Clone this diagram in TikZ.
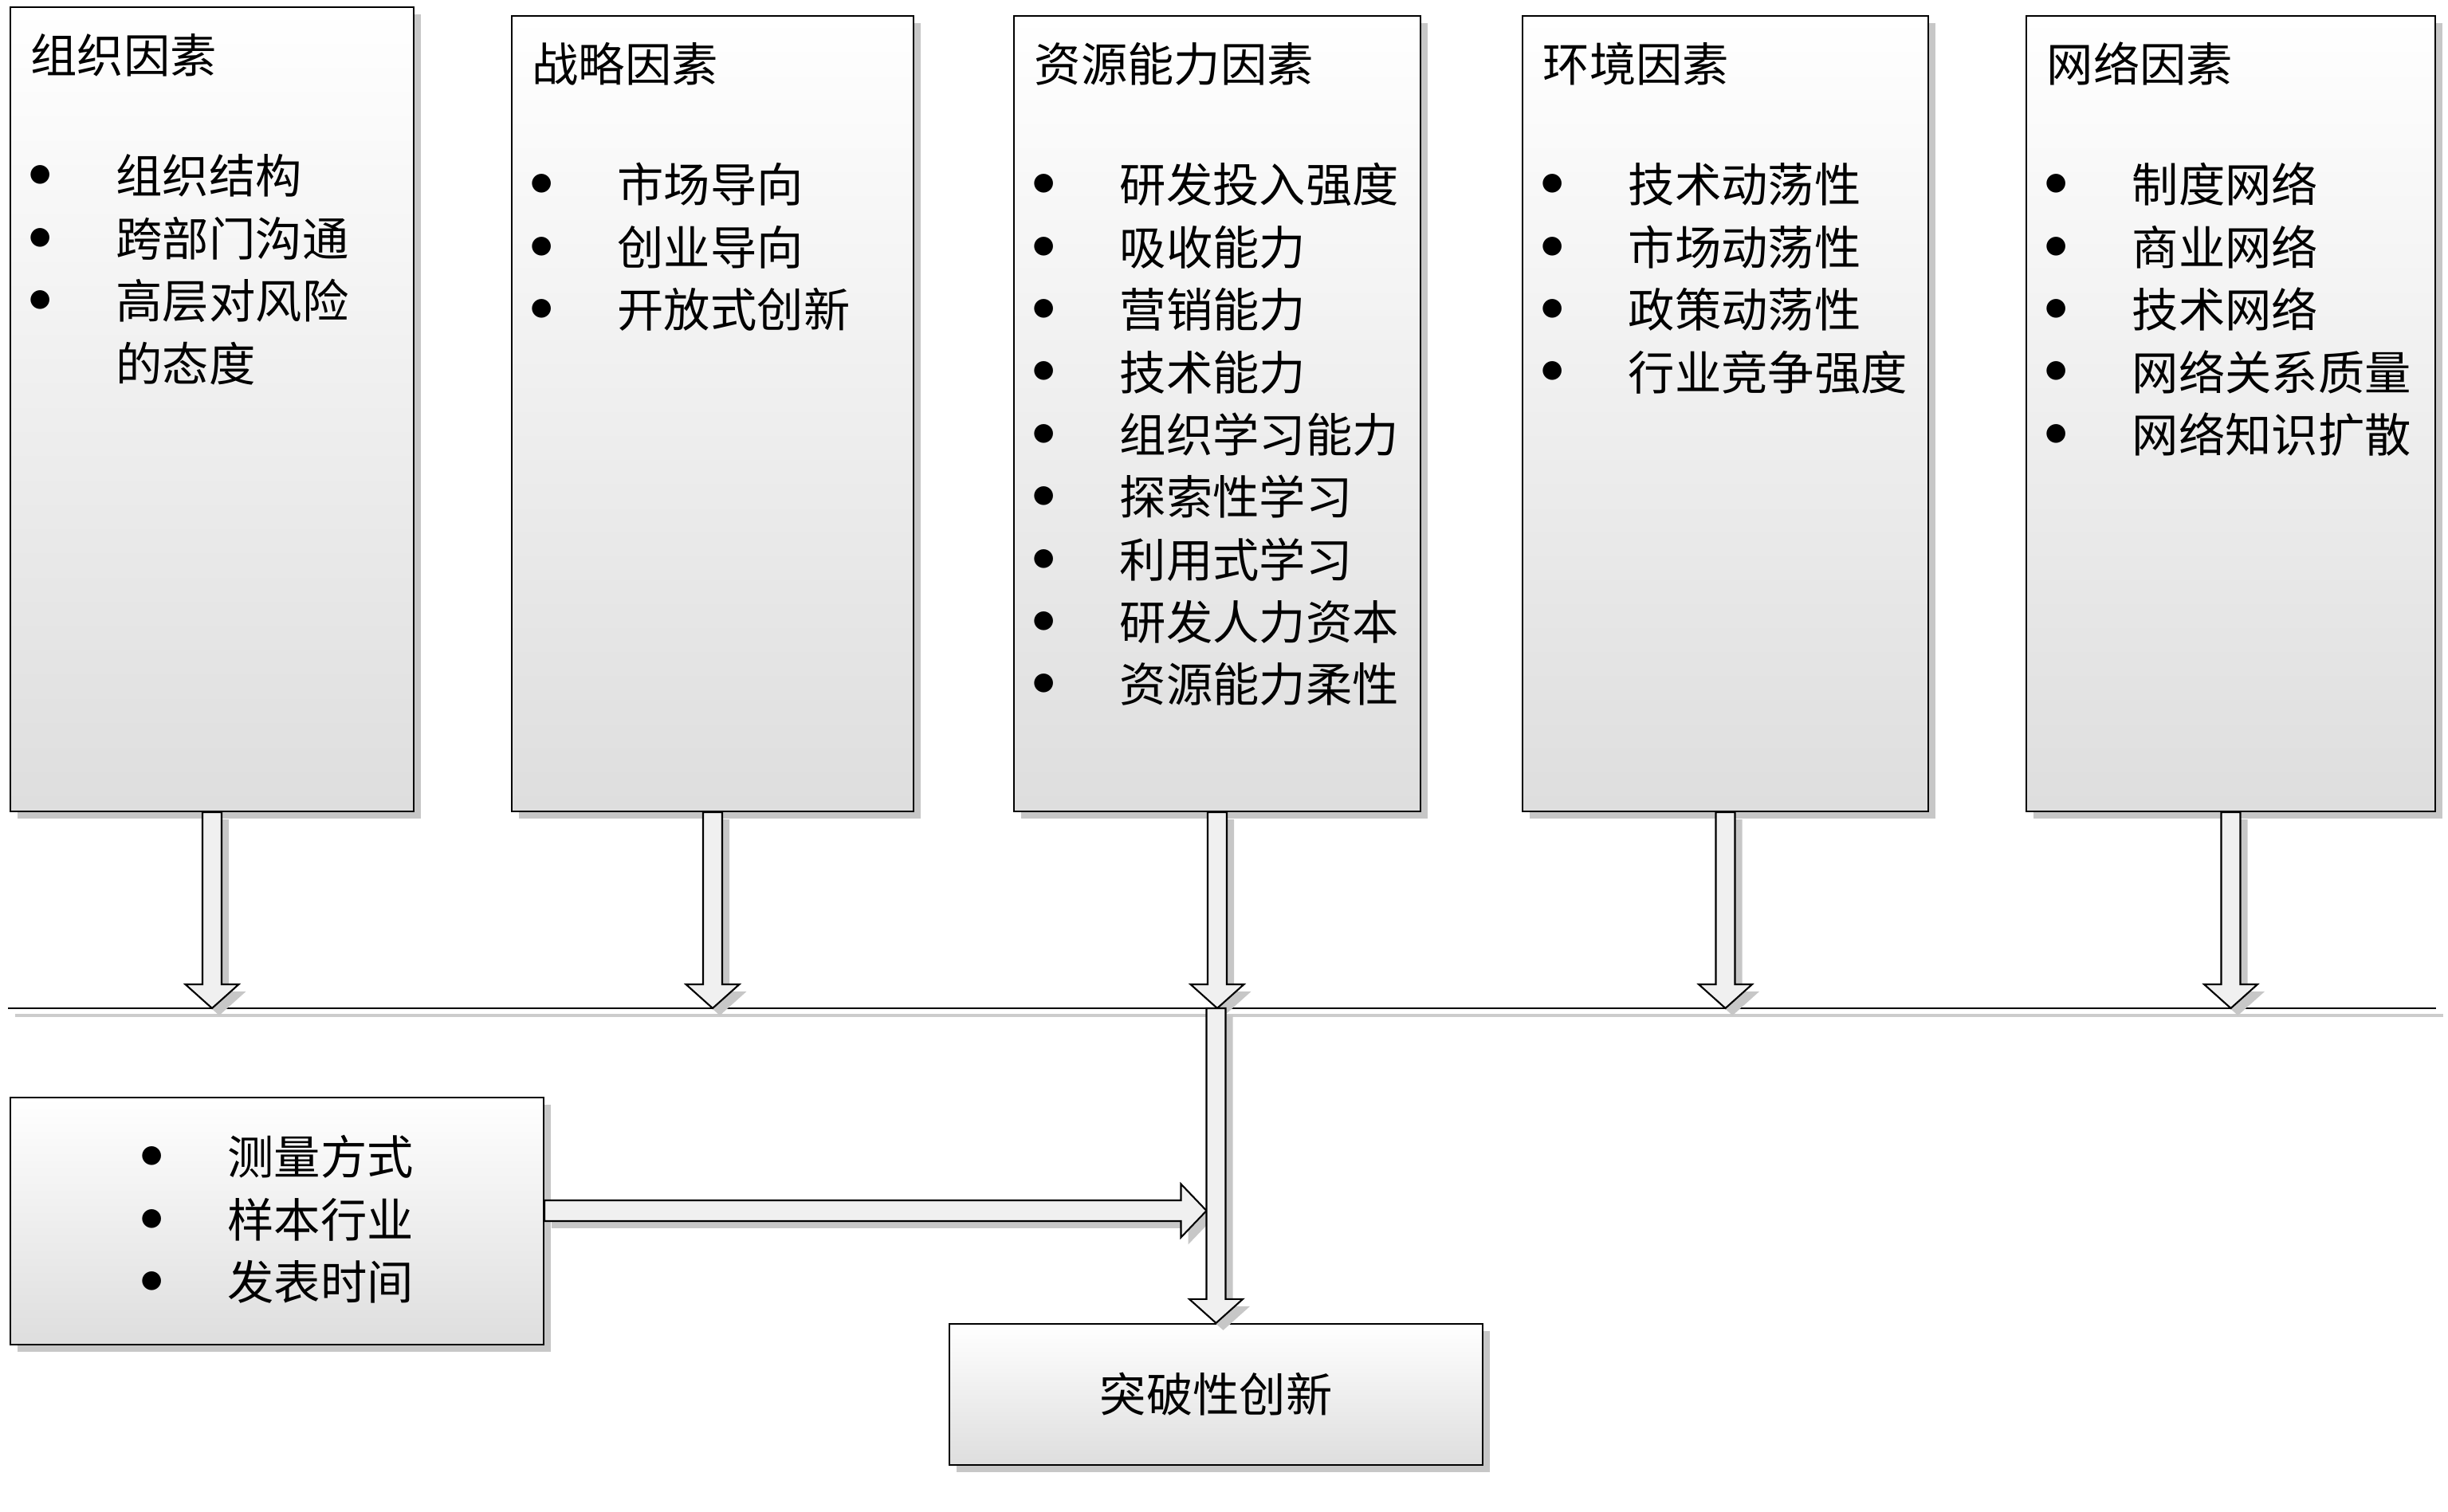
\documentclass[tikz,border=0pt]{standalone}
\usepackage{fontspec}
\newfontfamily\cjk{Noto Sans CJK SC}
\usepackage{tikz}
\usetikzlibrary{calc,positioning,shadows}

\newcommand\bitem[1]{\makebox[1.1cm][l]{\raisebox{0.14em}{$\bullet$}}#1}
\newcommand\bcont[1]{\makebox[1.1cm][l]{}#1}

% block arrows between two points
\newcommand\fatdown[2]{%
  \draw[fat] let \p1=(#1), \p2=(#2) in
    (\x1-0.12cm,\y1) -- (\x1-0.12cm,\y2+0.3cm) -- (\x1-0.335cm,\y2+0.3cm) -- (\x1,\y2)
    -- (\x1+0.335cm,\y2+0.3cm) -- (\x1+0.12cm,\y2+0.3cm) -- (\x1+0.12cm,\y1) -- cycle;}
\newcommand\fatright[2]{%
  \draw[fat] let \p1=(#1), \p2=(#2) in
    (\x1,\y1+0.13cm) -- (\x2-0.32cm,\y1+0.13cm) -- (\x2-0.32cm,\y1+0.335cm) -- (\x2,\y1)
    -- (\x2-0.32cm,\y1-0.335cm) -- (\x2-0.32cm,\y1-0.13cm) -- (\x1,\y1-0.13cm) -- cycle;}

\begin{document}
\begin{tikzpicture}[
    every node/.style={font=\cjk\fontsize{16.6pt}{22.3pt}\selectfont, inner sep=0pt},
    factor/.style={draw, line width=0.6pt, top color=white, bottom color=black!13,
      drop shadow={shadow xshift=0.09cm, shadow yshift=-0.09cm, fill=black!22, opacity=1}},
    fat/.style={draw, line width=0.6pt, fill=black!6,
      drop shadow={shadow xshift=0.09cm, shadow yshift=-0.09cm, fill=black!22, opacity=1}},
    title/.style={anchor=base west},
    list/.style={anchor=base west}]
  \useasboundingbox (0,0) rectangle (30.71,18.97);

  % factor boxes
  \node[factor, minimum width=5.06cm, minimum height=10.09cm] (org)   at (2.66,13.835) {};
  \node[factor, minimum width=5.04cm, minimum height=9.98cm]  (strat) at (8.94,13.78) {};
  \node[factor, minimum width=5.10cm, minimum height=9.98cm]  (res)   at (15.27,13.78) {};
  \node[factor, minimum width=5.09cm, minimum height=9.98cm]  (env)   at (21.645,13.78) {};
  \node[factor, minimum width=5.13cm, minimum height=9.98cm]  (net)   at (27.985,13.78) {};

  % titles and items
  \node[title] (orgT)   at ($(org.north west)+(0.26,-0.84)$)   {组织因素};
  \node[title] (stratT) at ($(strat.north west)+(0.26,-0.84)$) {战略因素};
  \node[title] (resT)   at ($(res.north west)+(0.26,-0.84)$)   {资源能力因素};
  \node[title] (envT)   at ($(env.north west)+(0.26,-0.84)$)   {环境因素};
  \node[title] (netT)   at ($(net.north west)+(0.26,-0.84)$)   {网络因素};

  \node[list] (orgL) at ($(org.north west)+(0.23,-2.35)$) {\begin{tabular}[t]{@{}l@{}}
    \bitem{组织结构}\\ \bitem{跨部门沟通}\\ \bitem{高层对风险}\\ \bcont{的态度}\end{tabular}};
  \node[list] (stratL) at ($(strat.north west)+(0.23,-2.35)$) {\begin{tabular}[t]{@{}l@{}}
    \bitem{市场导向}\\ \bitem{创业导向}\\ \bitem{开放式创新}\end{tabular}};
  \node[list] (resL) at ($(res.north west)+(0.23,-2.35)$) {\begin{tabular}[t]{@{}l@{}}
    \bitem{研发投入强度}\\ \bitem{吸收能力}\\ \bitem{营销能力}\\ \bitem{技术能力}\\
    \bitem{组织学习能力}\\ \bitem{探索性学习}\\ \bitem{利用式学习}\\ \bitem{研发人力资本}\\
    \bitem{资源能力柔性}\end{tabular}};
  \node[list] (envL) at ($(env.north west)+(0.23,-2.35)$) {\begin{tabular}[t]{@{}l@{}}
    \bitem{技术动荡性}\\ \bitem{市场动荡性}\\ \bitem{政策动荡性}\\ \bitem{行业竞争强度}\end{tabular}};
  \node[list] (netL) at ($(net.north west)+(0.23,-2.35)$) {\begin{tabular}[t]{@{}l@{}}
    \bitem{制度网络}\\ \bitem{商业网络}\\ \bitem{技术网络}\\ \bitem{网络关系质量}\\
    \bitem{网络知识扩散}\end{tabular}};

  % control box and outcome
  \node[factor, minimum width=6.69cm, minimum height=3.10cm] (ctrl) at (3.475,3.65) {};
  \node[list] (ctrlL) at ($(ctrl.north west)+(1.63,-0.98)$) {\begin{tabular}[t]{@{}l@{}}
    \bitem{测量方式}\\ \bitem{样本行业}\\ \bitem{发表时间}\end{tabular}};
  \node[factor, minimum width=6.69cm, minimum height=1.77cm] (brk) at (15.255,1.475) {突破性创新};

  % base line
  \coordinate (bl) at (0.10,6.32);
  \coordinate (br) at (30.56,6.32);
  \draw[black!20, line width=1pt] ($(bl)+(0.09,-0.09)$) -- ($(br)+(0.09,-0.09)$);
  \draw[line width=0.6pt] (bl) -- (br);

  % connections
  \foreach \b in {org,strat,res,env,net}
    \fatdown{\b.south}{\b.south |- bl};
  \fatright{$(ctrl.east)+(0,0.13)$}{$(brk.north |- ctrl.east)+(-0.12,0.13)$}
  \fatdown{brk.north |- bl}{brk.north}
\end{tikzpicture}
\end{document}
